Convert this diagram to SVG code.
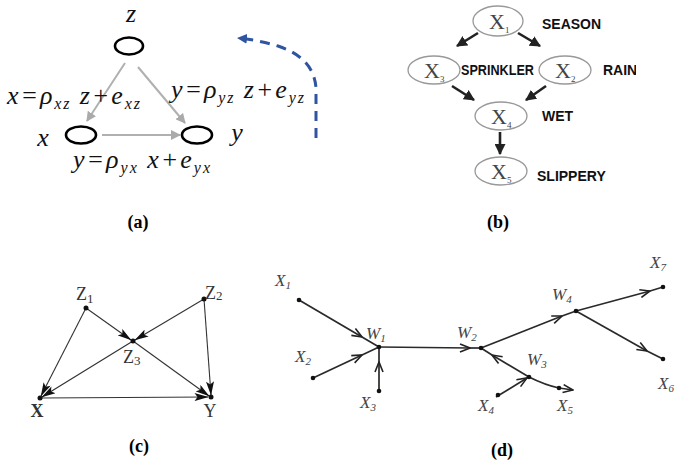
<svg xmlns="http://www.w3.org/2000/svg" width="685" height="467" viewBox="0 0 685 467">
<defs>
<style>
.eq{font-family:"Liberation Serif","Times New Roman",serif;font-style:italic;font-size:26px;fill:#111}
.sub{font-size:16px}
.cap{font-family:"Liberation Serif",serif;font-weight:bold;font-size:18px;fill:#000}
.bl{font-family:"Liberation Sans",Arial,sans-serif;font-weight:bold;font-size:14px;fill:#111}
.bx{font-family:"Liberation Serif",serif;font-size:22px;fill:#444}
.bs{font-size:9px}
.cl{font-family:"Liberation Serif",serif;font-size:18px;fill:#333}
.cs{font-size:13px}
.dl{font-family:"Liberation Serif",serif;font-style:italic;font-size:17px;fill:#444}
.ds{font-size:11px}
.ga{stroke:#b0b0b0;stroke-width:2;fill:none}
.ba{stroke:#222;stroke-width:2.6;fill:none}
.ca{stroke:#333;stroke-width:1.1;fill:none}
.da{stroke:#2a2a2a;stroke-width:1.7;fill:none}
.node-a{fill:#fff;stroke:#000;stroke-width:2.6}
.node-b{fill:#fff;stroke:#999;stroke-width:1.3}
</style>
<marker id="mg" viewBox="0 0 10 10" refX="9" refY="5" markerWidth="10" markerHeight="10" markerUnits="userSpaceOnUse" orient="auto"><path d="M0,0 L10,5 L0,10 z" fill="#aaa"/></marker>
<marker id="mb" viewBox="0 0 10 10" refX="9" refY="5" markerWidth="11" markerHeight="11" markerUnits="userSpaceOnUse" orient="auto"><path d="M0,0 L10,5 L0,10 z" fill="#222"/></marker>
<marker id="mblue" viewBox="0 0 10 10" refX="9" refY="5" markerWidth="10" markerHeight="10" markerUnits="userSpaceOnUse" orient="auto"><path d="M0,0 L10,5 L0,10 z" fill="#2f55a0"/></marker>
<marker id="mc" viewBox="0 0 14 8" refX="13.5" refY="4" markerWidth="15" markerHeight="8" markerUnits="userSpaceOnUse" orient="auto"><path d="M0,0 L14,4 L0,8 L3,4 z" fill="#111"/></marker>
<marker id="md" viewBox="0 0 12 10" refX="11" refY="5" markerWidth="12" markerHeight="10" markerUnits="userSpaceOnUse" orient="auto"><path d="M1,1 L11,5 L1,9" fill="none" stroke="#222" stroke-width="1.6"/></marker>
<clipPath id="rainclip"><rect x="590" y="55" width="46" height="30"/></clipPath>
</defs>
<rect width="685" height="467" fill="#fff"/>

<!-- Panel (a) -->
<g id="a-connectors">
<line class="ga" x1="125" y1="63" x2="87" y2="121" marker-end="url(#mg)"/>
<line class="ga" x1="138" y1="67" x2="185" y2="123" marker-end="url(#mg)"/>
<line class="ga" x1="102" y1="135" x2="180" y2="135" marker-end="url(#mg)"/>
<path d="M316,138 L316,88 Q314,58 278,46 Q258,40 238,38" fill="none" stroke="#2f55a0" stroke-width="3" stroke-dasharray="10,7" marker-end="url(#mblue)"/>
</g>
<g id="a-z"><text class="eq" x="131" y="22" text-anchor="middle">z</text><ellipse class="node-a" cx="129" cy="46" rx="14" ry="8.5"/></g>
<g id="a-x"><text class="eq" x="43" y="146" text-anchor="middle">x</text><ellipse class="node-a" cx="81" cy="135" rx="15" ry="8.5"/></g>
<g id="a-y"><text class="eq" x="237" y="141" text-anchor="middle">y</text><ellipse class="node-a" cx="197" cy="135" rx="15" ry="8.5"/></g>
<text class="eq" x="7" y="104" textLength="133" lengthAdjust="spacing">x=ρ<tspan class="sub" dy="5">xz</tspan><tspan dy="-5"> z+e</tspan><tspan class="sub" dy="5">xz</tspan></text>
<text class="eq" x="171" y="98" textLength="133" lengthAdjust="spacing">y=ρ<tspan class="sub" dy="5">yz</tspan><tspan dy="-5"> z+e</tspan><tspan class="sub" dy="5">yz</tspan></text>
<text class="eq" x="73" y="168" textLength="137" lengthAdjust="spacing">y=ρ<tspan class="sub" dy="5">yx</tspan><tspan dy="-5"> x+e</tspan><tspan class="sub" dy="5">yx</tspan></text>
<text class="cap" x="138" y="228" text-anchor="middle">(a)</text>

<!-- Panel (b) -->
<g id="b-connectors">
<line class="ba" x1="478" y1="33" x2="457" y2="46" marker-end="url(#mb)"/>
<line class="ba" x1="518" y1="33" x2="540" y2="46" marker-end="url(#mb)"/>
<line class="ba" x1="452" y1="86" x2="474" y2="100" marker-end="url(#mb)"/>
<line class="ba" x1="546" y1="86" x2="526" y2="100" marker-end="url(#mb)"/>
<line class="ba" x1="500" y1="132" x2="500" y2="154" marker-end="url(#mb)"/>
</g>
<g id="b-x1"><ellipse class="node-b" cx="498" cy="21" rx="25" ry="15"/><text class="bx" x="489" y="29">X<tspan class="bs" dy="4">1</tspan></text><text class="bl" x="542" y="29">SEASON</text></g>
<g id="b-x3"><ellipse class="node-b" cx="434" cy="70" rx="26" ry="14"/><text class="bx" x="424" y="78">X<tspan class="bs" dy="4">3</tspan></text><text class="bl" x="461" y="75" font-size="11" textLength="73" lengthAdjust="spacingAndGlyphs">SPRINKLER</text></g>
<g id="b-x2"><ellipse class="node-b" cx="565" cy="70" rx="26" ry="14"/><text class="bx" x="555" y="78">X<tspan class="bs" dy="4">2</tspan></text><text class="bl" x="603" y="75" clip-path="url(#rainclip)">RAIN</text></g>
<g id="b-x4"><ellipse class="node-b" cx="501" cy="116" rx="26" ry="14"/><text class="bx" x="491" y="124">X<tspan class="bs" dy="4">4</tspan></text><text class="bl" x="542" y="121">WET</text></g>
<g id="b-x5"><ellipse class="node-b" cx="501" cy="171" rx="26" ry="14"/><text class="bx" x="491" y="179">X<tspan class="bs" dy="4">5</tspan></text><text class="bl" x="537" y="181">SLIPPERY</text></g>
<text class="cap" x="498" y="228" text-anchor="middle">(b)</text>

<!-- Panel (c) -->
<g id="c-connectors">
<line class="ca" x1="86" y1="308" x2="41" y2="396" marker-end="url(#mc)"/>
<line class="ca" x1="86" y1="308" x2="131" y2="340" marker-end="url(#mc)"/>
<line class="ca" x1="204" y1="299" x2="135" y2="340" marker-end="url(#mc)"/>
<line class="ca" x1="204" y1="299" x2="211" y2="395" marker-end="url(#mc)"/>
<line class="ca" x1="133" y1="341" x2="42" y2="397" marker-end="url(#mc)"/>
<line class="ca" x1="133" y1="341" x2="209" y2="396" marker-end="url(#mc)"/>
<line class="ca" x1="40" y1="398" x2="208" y2="397" marker-end="url(#mc)"/>
</g>
<g id="c-z1"><circle cx="86" cy="308" r="2.5" fill="#111"/><text class="cl" x="76" y="300">Z<tspan class="cs" dy="3">1</tspan></text></g>
<g id="c-z2"><circle cx="204" cy="299" r="2.5" fill="#111"/><text class="cl" x="205" y="299">Z<tspan class="cs" dy="1">2</tspan></text></g>
<g id="c-z3"><circle cx="133" cy="341" r="2.5" fill="#111"/><text class="cl" x="123" y="363">Z<tspan class="cs" dy="2">3</tspan></text></g>
<g id="c-x"><circle cx="40" cy="398" r="2.5" fill="#111"/><text class="cl" x="37" y="417" text-anchor="middle" font-size="13" font-weight="bold" fill="#222">X</text></g>
<g id="c-y"><circle cx="211" cy="397" r="2.5" fill="#111"/><text class="cl" x="210" y="417" text-anchor="middle" font-size="13">Y</text></g>
<text class="cap" x="139" y="452" text-anchor="middle">(c)</text>

<!-- Panel (d) -->
<g id="d-connectors">
<line class="da" x1="299" y1="300" x2="362" y2="337" marker-end="url(#md)"/>
<line class="da" x1="362" y1="337" x2="379" y2="347"/>
<line class="da" x1="313" y1="378" x2="362" y2="355" marker-end="url(#md)"/>
<line class="da" x1="362" y1="355" x2="379" y2="347"/>
<line class="da" x1="379" y1="391" x2="379" y2="362" marker-end="url(#md)"/>
<line class="da" x1="379" y1="362" x2="379" y2="347"/>
<line class="da" x1="379" y1="347" x2="470" y2="348" marker-end="url(#md)"/>
<line class="da" x1="470" y1="348" x2="481" y2="348"/>
<line class="da" x1="529" y1="377" x2="492" y2="355" marker-end="url(#md)"/>
<line class="da" x1="492" y1="355" x2="481" y2="348"/>
<line class="da" x1="496" y1="397" x2="527" y2="378" marker-end="url(#md)"/>
<path class="da" d="M529,377 Q545,385 559,388 L573,390" marker-end="url(#md)"/>
<line class="da" x1="481" y1="348" x2="562" y2="316" marker-end="url(#md)"/>
<line class="da" x1="562" y1="316" x2="576" y2="311"/>
<line class="da" x1="576" y1="311" x2="650" y2="291" marker-end="url(#md)"/>
<line class="da" x1="650" y1="291" x2="663" y2="287"/>
<line class="da" x1="576" y1="311" x2="647" y2="351" marker-end="url(#md)"/>
<line class="da" x1="647" y1="351" x2="663" y2="359"/>
</g>
<g id="d-x1"><circle cx="299" cy="300" r="2.3" fill="#111"/><text class="dl" x="275" y="286">X<tspan class="ds" dy="3">1</tspan></text></g>
<g id="d-w1"><circle cx="379" cy="347" r="2.3" fill="#111"/><text class="dl" x="366" y="339">W<tspan class="ds" dy="3">1</tspan></text></g>
<g id="d-x2"><circle cx="313" cy="378" r="2.3" fill="#111"/><text class="dl" x="295" y="362">X<tspan class="ds" dy="3">2</tspan></text></g>
<g id="d-x3"><circle cx="379" cy="391" r="2.3" fill="#111"/><text class="dl" x="360" y="408">X<tspan class="ds" dy="3">3</tspan></text></g>
<g id="d-w2"><circle cx="481" cy="348" r="2.3" fill="#111"/><text class="dl" x="457" y="338">W<tspan class="ds" dy="3">2</tspan></text></g>
<g id="d-w3"><circle cx="529" cy="377" r="2.3" fill="#111"/><text class="dl" x="527" y="365">W<tspan class="ds" dy="3">3</tspan></text></g>
<g id="d-x4"><circle cx="498" cy="395" r="2.3" fill="#111"/><text class="dl" x="478" y="411">X<tspan class="ds" dy="3">4</tspan></text></g>
<g id="d-x5"><circle cx="559" cy="388" r="2.3" fill="#111"/><text class="dl" x="557" y="411">X<tspan class="ds" dy="3">5</tspan></text></g>
<g id="d-w4"><circle cx="576" cy="311" r="2.3" fill="#111"/><text class="dl" x="552" y="300">W<tspan class="ds" dy="3">4</tspan></text></g>
<g id="d-x7"><circle cx="663" cy="287" r="2.3" fill="#111"/><text class="dl" x="650" y="268">X<tspan class="ds" dy="3">7</tspan></text></g>
<g id="d-x6"><circle cx="663" cy="359" r="2.3" fill="#111"/><text class="dl" x="658" y="389">X<tspan class="ds" dy="3">6</tspan></text></g>
<text class="cap" x="502" y="456" text-anchor="middle">(d)</text>
</svg>
